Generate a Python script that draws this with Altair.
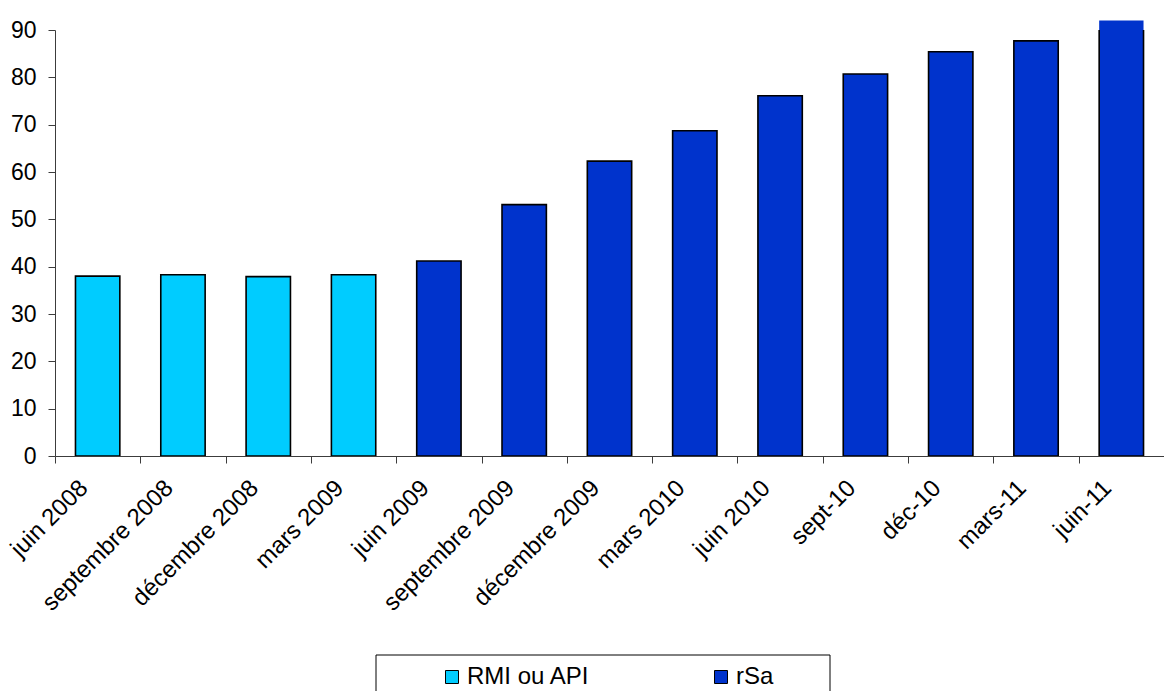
import altair as alt
import pandas as pd

# Quarterly values, two schemes (RMI/API until March 2009, then rSa)
periods = ["juin 2008", "septembre 2008", "décembre 2008", "mars 2009", "juin 2009",
           "septembre 2009", "décembre 2009", "mars 2010", "juin 2010", "sept-10",
           "déc-10", "mars-11", "juin-11"]
values = [38.0, 38.3, 37.9, 38.3, 41.2, 53.1, 62.3, 68.7, 76.1, 80.7, 85.4, 87.7, 92.0]
series = ["RMI ou API"] * 4 + ["rSa"] * 9
series_names = ["RMI ou API", "rSa"]
series_colors = ["#00CCFF", "#0033CC"]
y_ticks = list(range(0, 91, 10))

df = pd.DataFrame({"periode": periods, "valeur": values, "serie": series})

FONT = "Liberation Sans"
W, H = 1109, 426
step = W / len(periods)
pad_inner = 0.48

x_enc = alt.X(
    "periode:N",
    sort=periods,
    title=None,
    scale=alt.Scale(paddingInner=pad_inner, paddingOuter=pad_inner / 2),
    axis=alt.Axis(
        labelAngle=-45,
        labelAlign="right",
        labelBaseline="middle",
        labelFont=FONT,
        labelFontSize=24,
        labelColor="black",
        labelPadding=21,
        tickOffset=-step / 2,
        labelOffset=step / 2 - 14,
        tickSize=7,
        tickColor="#3c3c3c",
        domainColor="#3c3c3c",
        labelOverlap=False,
        grid=False,
    ),
)
y_enc = alt.Y(
    "valeur:Q",
    title=None,
    scale=alt.Scale(domain=[0, 90], nice=False),
    axis=alt.Axis(
        values=y_ticks,
        labelFont=FONT,
        labelFontSize=23,
        labelColor="black",
        labelPadding=12,
        tickSize=7,
        tickColor="#3c3c3c",
        domainColor="#3c3c3c",
        grid=False,
    ),
)
color_enc = alt.Color(
    "serie:N",
    scale=alt.Scale(domain=series_names, range=series_colors),
    legend=alt.Legend(
        title=None,
        orient="none",
        direction="horizontal",
        legendX=385,
        legendY=635,
        padding=0,
        symbolType="square",
        symbolSize=169,
        symbolStrokeColor="black",
        symbolStrokeWidth=1,
        symbolOpacity=1,
        labelFont=FONT,
        labelFontSize=24,
        labelColor="black",
        labelOffset=3,
        columnPadding=119,
    ),
)

base = alt.Chart(df)

# fill layer, allowed to run past the top of the axis
fill = base.mark_bar(clip=False, strokeWidth=0).encode(x=x_enc, y=y_enc, color=color_enc)
# outlined layer, clipped to the plotting area
outlined = base.mark_bar(clip=True, stroke="black", strokeWidth=1.6).encode(
    x=x_enc, y=y_enc, color=color_enc
)

legend_box = alt.Chart(pd.DataFrame({"k": [0]})).mark_rect(
    filled=False, stroke="black", strokeWidth=1
).encode(
    x=alt.value(321), x2=alt.value(775), y=alt.value(625), y2=alt.value(672)
)

chart = (
    alt.layer(legend_box, fill, outlined)
    .properties(
        width=W,
        height=H,
        autosize=alt.AutoSizeParams(type="none"),
        padding={"left": 55, "top": 30, "right": 0, "bottom": 235},
        background="white",
    )
    .configure_view(stroke=None)
)

chart.save("out.html", embed_options={"renderer": "svg", "actions": False})
